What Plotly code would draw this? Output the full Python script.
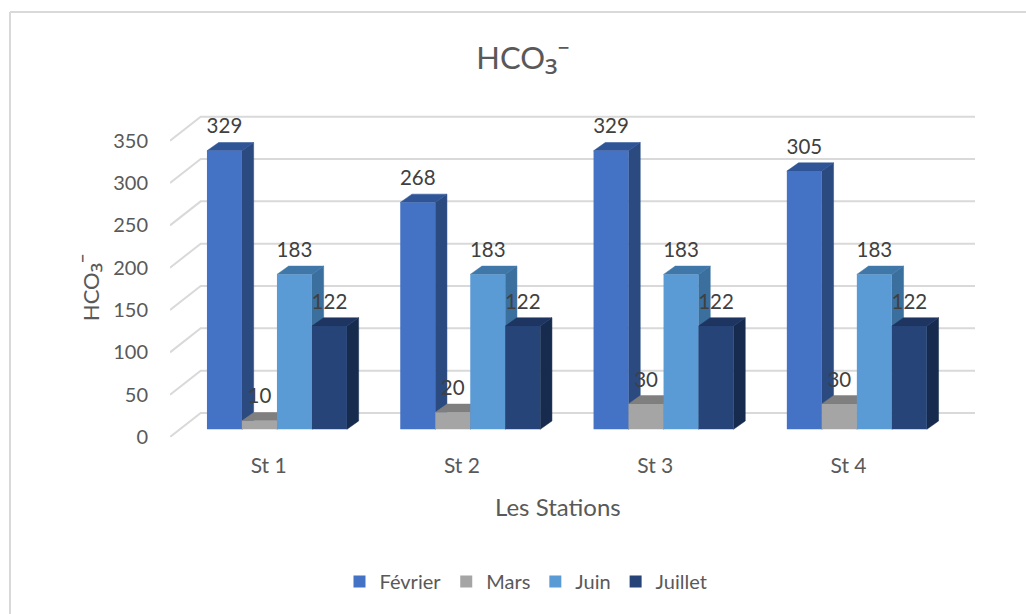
import plotly.graph_objects as go

stations = ["St 1", "St 2", "St 3", "St 4"]
series_names = ["Février", "Mars", "Juin", "Juillet"]
fevrier = [329, 268, 329, 305]
mars = [10, 20, 30, 30]
juin = [183, 183, 183, 183]
juillet = [122, 122, 122, 122]
y_ticks = [0, 50, 100, 150, 200, 250, 300, 350]

front_colors = ["#4472C4", "#A5A5A5", "#5B9BD5", "#264478"]
side_colors = ["#2A4A80", "#6B6B6B", "#3B6F9E", "#172B4E"]
top_colors = ["#2F5597", "#7F7F7F", "#3F78A8", "#1D3560"]
FONT = "Lato"
TEXT = "#595959"
GRID = "#D9D9D9"

# pixel geometry of the plot frame
L, R, T, B = 170, 985, 100, 436.7
W, H = 1026, 614
PX_X = 193.3            # px per category
PX_Y = (B - 140.7) / 350  # px per unit
dx = lambda px: px / PX_X
dy = lambda px: px / PX_Y
x_lo = -0.5
x_hi = x_lo + (R - L) / PX_X
y_hi = (B - T) / PX_Y
grid_end = x_lo + (975 - L) / PX_X

wall_dx, wall_dy = dx(30.7), dy(24)
bar_off_x, bar_off_y = dx(10.3), dy(7.7)
bar_dx, bar_dy = dx(11.7), dy(8.3)
bar_w = dx(35)

all_series = [fevrier, mars, juin, juillet]
fig = go.Figure()

# back wall gridlines and their diagonal side-wall segments
gx, gy = [], []
for t in y_ticks:
    gx += [x_lo, x_lo + wall_dx, grid_end, None]
    gy += [t, t + wall_dy, t + wall_dy, None]
fig.add_trace(go.Scatter(x=gx, y=gy, mode="lines", line=dict(color=GRID, width=2),
                         showlegend=False, hoverinfo="skip", cliponaxis=False))

# depth faces
for s, vals in enumerate(all_series):
    for i, v in enumerate(vals):
        left = i + bar_off_x + (s - 2) * bar_w
        right = left + bar_w
        b = bar_off_y
        fig.add_trace(go.Scatter(
            x=[right, right + bar_dx, right + bar_dx, right, right],
            y=[b, b + bar_dy, b + v + bar_dy, b + v, b],
            mode="lines", fill="toself", fillcolor=side_colors[s],
            line=dict(width=0.5, color=side_colors[s]), showlegend=False, hoverinfo="skip",
            cliponaxis=False))
        fig.add_trace(go.Scatter(
            x=[left, left + bar_dx, right + bar_dx, right, left],
            y=[b + v, b + v + bar_dy, b + v + bar_dy, b + v, b + v],
            mode="lines", fill="toself", fillcolor=top_colors[s],
            line=dict(width=0.5, color=top_colors[s]), showlegend=False, hoverinfo="skip",
            cliponaxis=False))

# front faces on an overlay so they cover the depth faces of neighbours
for s, (name, vals) in enumerate(zip(series_names, all_series)):
    fig.add_trace(go.Bar(
        x=[i + bar_off_x + (s - 1.5) * bar_w for i in range(len(vals))],
        y=vals, base=[bar_off_y] * len(vals), width=bar_w, name=name,
        marker=dict(color=front_colors[s], line=dict(width=0)),
        xaxis="x2", yaxis="y2"))

# data labels
lx, ly, lt = [], [], []
for s, vals in enumerate(all_series):
    for i, v in enumerate(vals):
        lx.append(i + bar_off_x + (s - 1.5) * bar_w)
        ly.append(v + bar_off_y + dy(22.5))
        lt.append(str(v))
fig.add_trace(go.Scatter(x=lx, y=ly, text=lt, mode="text", textposition="middle center",
                         textfont=dict(family=FONT, size=20.5, color="#404040"),
                         showlegend=False, hoverinfo="skip", cliponaxis=False,
                         xaxis="x2", yaxis="y2"))

SUB = '<span style="font-family:Noto Sans;font-size:%dpx">₃⁻</span>'
fig.update_layout(
    width=W, height=H, autosize=False,
    margin=dict(l=L, r=W - R, t=T, b=H - B, pad=0),
    paper_bgcolor="white", plot_bgcolor="white",
    font=dict(family=FONT, size=20, color=TEXT),
    barmode="overlay",
    title=dict(text="HCO" + SUB % 36, x=523 / W, xanchor="center", y=1 - 58 / H, yanchor="middle",
               font=dict(family=FONT, size=31, color=TEXT)),
    xaxis=dict(range=[x_lo, x_hi], tickmode="array",
               tickvals=[i + dx(2) for i in range(len(stations))],
               ticktext=stations, showgrid=False, zeroline=False, showline=False,
               ticks="", ticklabelstandoff=14, tickfont=dict(size=21, color=TEXT)),
    yaxis=dict(range=[0, y_hi], tickmode="array", tickvals=y_ticks, showgrid=False,
               zeroline=False, showline=False, ticks="", ticklabelstandoff=21,
               tickfont=dict(size=20, color=TEXT)),
    xaxis2=dict(range=[x_lo, x_hi], overlaying="x", visible=False),
    yaxis2=dict(range=[0, y_hi], overlaying="y", visible=False),
    legend=dict(orientation="h", x=(526 - L) / (R - L), xanchor="center",
                y=(B - 581) / (B - T), yanchor="middle",
                font=dict(family=FONT, size=20, color=TEXT), bgcolor="rgba(0,0,0,0)"),
    annotations=[
        dict(text="HCO" + SUB % 27, xref="paper", yref="paper", x=(88 - L) / (R - L),
             y=(B - 288) / (B - T), xanchor="center", yanchor="middle", textangle=-90,
             showarrow=False, font=dict(family=FONT, size=22, color=TEXT)),
        dict(text="Les Stations", xref="paper", yref="paper", x=(558 - L) / (R - L),
             y=(B - 506) / (B - T), xanchor="center", yanchor="middle", showarrow=False,
             font=dict(family=FONT, size=24, color=TEXT)),
    ],
    shapes=[
        dict(type="line", xref="paper", yref="paper", x0=(10 - L) / (R - L), x1=(W - L) / (R - L),
             y0=(B - 12) / (B - T), y1=(B - 12) / (B - T), line=dict(color=GRID, width=2)),
        dict(type="line", xref="paper", yref="paper", x0=(10 - L) / (R - L), x1=(10 - L) / (R - L),
             y0=(B - 12) / (B - T), y1=(B - H) / (B - T), line=dict(color=GRID, width=2)),
    ],
)

fig.write_html("out.html", config={"displayModeBar": False},
               post_script="document.body.style.margin='0';")
